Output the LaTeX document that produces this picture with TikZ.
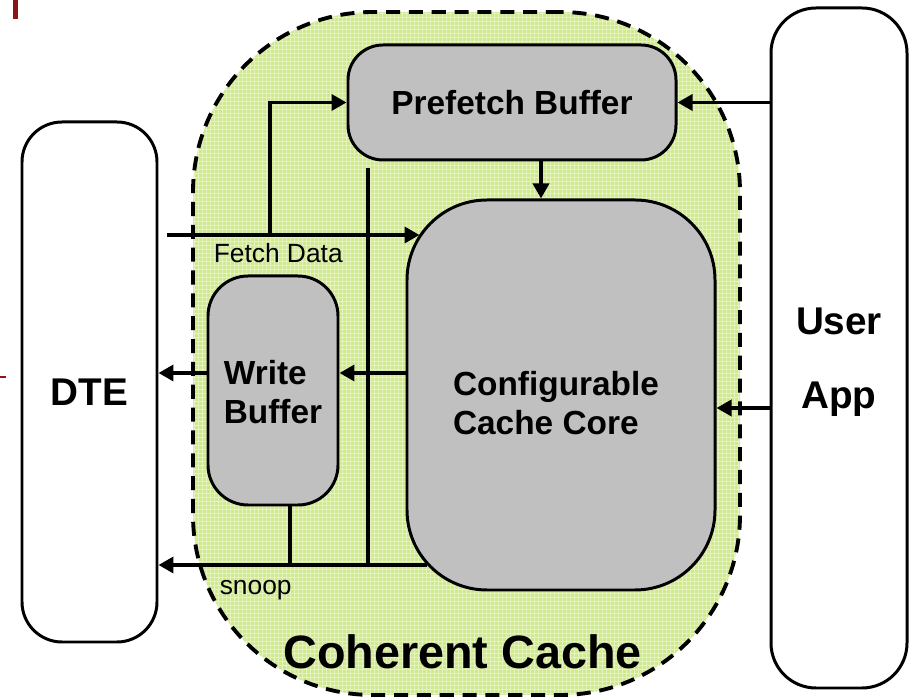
\documentclass[tikz,border=0pt]{standalone}
\usepackage{fontspec}
\setmainfont{Liberation Sans}
\usetikzlibrary{arrows.meta,calc}
\definecolor{boxgray}{RGB}{192,192,192}
\definecolor{cachegreen}{RGB}{208,233,143}
\definecolor{slidered}{RGB}{140,22,22}

\begin{document}
\begin{tikzpicture}[>={Triangle[length=3mm,width=3.2mm]},line width=2pt,
  blk/.style={draw,line width=1.7pt,fill=boxgray,inner sep=0pt},
  side/.style={draw,line width=1.7pt,fill=white,inner sep=0pt},
  blktext/.style={inner sep=0pt,align=left,font=\bfseries\fontsize{19}{22}\selectfont},
  sidetext/.style={inner sep=0pt,align=center,font=\bfseries\fontsize{22}{42}\selectfont},
  tag/.style={inner sep=0pt,font=\fontsize{15}{18}\selectfont}]
\useasboundingbox (0,0) rectangle (18.24,14);
\fill[slidered] (0.26,13.62) rectangle (0.36,14);
\fill[slidered] (0,6.44) rectangle (0.12,6.48);
\node[draw,dash pattern=on 8pt off 5pt,line width=2.2pt,rounded corners=3.6cm,fill=cachegreen,
  minimum width=10.94cm,minimum height=13.66cm,
  path picture={\draw[solid,white,opacity=.45,line width=.35pt] (path picture bounding box.south west) grid[step=0.08] (path picture bounding box.north east);}]
  (cc) at (9.33,6.93) {};
\node[font=\bfseries\fontsize{26.6}{30}\selectfont] (cctitle) at (9.25,0.96) {Coherent Cache};
\node[side,rounded corners=0.8cm,minimum width=2.7cm,minimum height=10.4cm] (dte) at (1.79,6.36) {};
\node[sidetext] (dtetext) at ([yshift=-0.2cm]dte.center) {DTE};
\node[side,rounded corners=0.9cm,minimum width=2.72cm,minimum height=13.6cm] (app) at (16.78,7.04) {};
\node[sidetext] (apptext) at ([yshift=-0.28cm]app.center) {User\\App};
\node[blk,rounded corners=0.7cm,minimum width=6.56cm,minimum height=2.3cm] (prefetch) at (10.24,11.95) {};
\node[blktext] (prefetchtext) at (prefetch.center) {Prefetch Buffer};
\node[blk,rounded corners=1.6cm,minimum width=6.16cm,minimum height=7.8cm] (core) at (11.22,6.1) {};
\node[blktext] (coretext) at ([xshift=-0.1cm,yshift=-0.16cm]core.center) {Configurable\\Cache Core};
\node[blk,rounded corners=0.8cm,minimum width=2.6cm,minimum height=4.58cm] (wbuf) at (5.46,6.19) {};
\node[blktext] (wbuftext) at ([yshift=-0.03cm]wbuf.center) {Write\\Buffer};
\coordinate (fetchin) at (3.34,9.3);
\coordinate (fork) at (5.4,9.3);
\draw[->] (fetchin) -- ($(fetchin -| core.west)+(0.28,0)$);
\draw[->] (fork) |- (prefetch.west);
\node[tag,anchor=west] (fetchlbl) at (4.24,8.94) {Fetch Data};
\draw[->] ($(prefetch.south)+(0.58,0)$) -- ($(core.north)+(-0.4,0)$);
\draw[->] (app.west |- prefetch.east) -- (prefetch.east);
\coordinate (approw) at (0,5.84);
\draw[->] (app.west |- approw) -- (core.east |- approw);
\coordinate (wbrow) at (0,6.54);
\draw[->] (core.west |- wbrow) -- (wbuf.east |- wbrow);
\draw[->] (wbuf.west |- wbrow) -- (dte.east |- wbrow);
\coordinate (bustop) at (7.36,10.64);
\coordinate (snoopsrc) at (8.54,2.7);
\coordinate (wbtap) at ($(wbuf.south)+(0.34,0)$);
\draw (bustop) -- (bustop |- snoopsrc);
\draw (wbtap) -- (wbtap |- snoopsrc);
\draw[->] (snoopsrc) -- (dte.east |- snoopsrc);
\node[tag,anchor=west] (snooplbl) at (4.36,2.2) {snoop};
\end{tikzpicture}
\end{document}
